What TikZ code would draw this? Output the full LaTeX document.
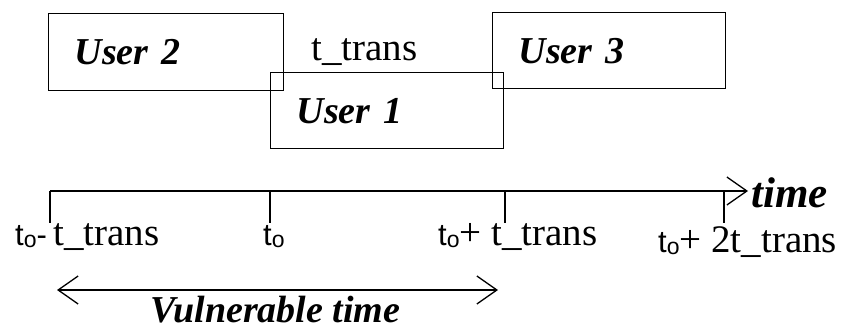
\documentclass[tikz,border=0pt]{standalone}
\usepackage{fontspec}
\setmainfont{Liberation Serif}
\newfontfamily\sansf{Liberation Sans}
\usetikzlibrary{arrows.meta}
% t with a subscript o, set in a sans face
\newcommand{\tzero}{{\sansf\fontsize{31}{33}\selectfont t\raisebox{-2.5pt}{\fontsize{23}{25}\selectfont o}}}
\tikzset{
  userbox/.style={draw, line width=1.3pt, anchor=north west, align=left,
    inner xsep=26pt, inner ysep=0pt, font=\fontsize{38}{42}\selectfont\bfseries\itshape},
  axis/.style={line width=1.3pt},
  lbl/.style={anchor=base west, inner sep=0pt, font=\fontsize{39}{42}\selectfont},
  bilbl/.style={anchor=base west, inner sep=0pt, font=\fontsize{38}{42}\selectfont\bfseries\itshape},
  openbarb/.tip={Straight Barb[length=20pt,width=28pt,line width=1.3pt]},
  openhead/.style={-openbarb},
  bothheads/.style={openbarb-openbarb}
}
\begin{document}
\begin{tikzpicture}[x=1pt,y=-1pt]
\useasboundingbox (0,0) rectangle (841,329);

% transmission boxes
\node[userbox, text width=183pt, minimum height=77pt] (u2) at (48,13) {User 2};
\node[userbox, text width=181pt, minimum height=76pt] (u1) at (270,72) {User 1};
\node[userbox, text width=181pt, minimum height=76pt] (u3) at (492,12) {User 3};
\node[lbl] (tt) at (311,60) {t\_trans};

% time axis with ticks
\coordinate (a0) at (50,191);
\coordinate (aend) at (748,191);
\coordinate (k1) at (270,191);
\coordinate (k2) at (505,191);
\coordinate (k3) at (724,191);
\coordinate (b0) at (50,223);
\coordinate (b1) at (270,223);
\coordinate (b2) at (505,223);
\coordinate (b3) at (724,223);
\draw[axis, openhead] (a0) -- (aend);
\draw[axis] (a0) -- (b0);
\draw[axis] (k1) -- (b1);
\draw[axis] (k2) -- (b2);
\draw[axis] (k3) -- (b3);
\node[bilbl, font=\fontsize{43}{46}\selectfont\bfseries\itshape] (tm) at (751,207) {time};

% tick labels
\node[lbl] (l0) at (15,245) {\tzero{\sansf\fontsize{31}{33}\selectfont-}\,t\_trans};
\node[lbl] (l1) at (263,245) {\tzero};
\node[lbl] (l2) at (438,245) {\tzero+ t\_trans};
\node[lbl] (l3) at (658,252) {\tzero+ 2t\_trans};

% vulnerable interval
\coordinate (v0) at (57,290);
\coordinate (v1) at (498,290);
\draw[axis, bothheads] (v0) -- (v1);
\node[bilbl] (vt) at (150,322) {Vulnerable time};
\end{tikzpicture}
\end{document}
